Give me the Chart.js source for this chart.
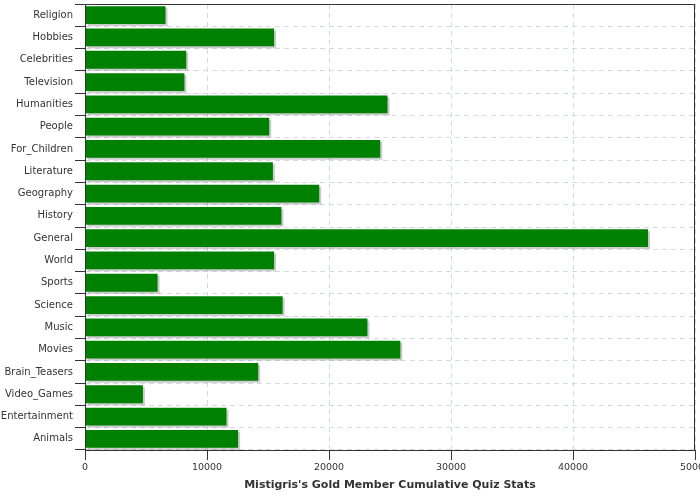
<!DOCTYPE html>
<html>
<head>
<meta charset="utf-8">
<script src="https://cdn.jsdelivr.net/npm/chart.js@4/dist/chart.umd.min.js"></script>
<style>
  body { margin: 0; background: #fff; }
</style>
</head>
<body>
<canvas id="myChart" width="700" height="500"></canvas>
<script>
// categorias y valores
var categories = ["Religion", "Hobbies", "Celebrities", "Television", "Humanities", "People",
    "For_Children", "Literature", "Geography", "History", "General", "World", "Sports",
    "Science", "Music", "Movies", "Brain_Teasers", "Video_Games", "Entertainment", "Animals"];
var scores = [6600, 15500, 8300, 8150, 24800, 15100, 24200, 15400, 19200, 16100,
    46150, 15500, 5950, 16200, 23150, 25850, 14200, 4750, 11600, 12550];
var xTicks = [0, 10000, 20000, 30000, 40000, 50000];
var chartTitle = "Mistigris's Gold Member Cumulative Quiz Stats";

// sombra gris bajo las barras
var barShadow = {
    id: 'barShadow',
    beforeDatasetDraw: function(chart) {
        var ctx = chart.ctx;
        ctx.save();
        ctx.shadowColor = 'rgba(0,0,0,0.2)';
        ctx.shadowOffsetX = 2;
        ctx.shadowOffsetY = 2;
        ctx.shadowBlur = 0;
    },
    afterDatasetDraw: function(chart) {
        chart.ctx.restore();
    }
};

// marco alrededor del area
var frame = {
    id: 'frame',
    afterDraw: function(chart) {
        var a = chart.chartArea;
        var ctx = chart.ctx;
        ctx.save();
        ctx.strokeStyle = '#333';
        ctx.lineWidth = 1;
        ctx.strokeRect(Math.round(a.left) + 0.5, Math.round(a.top) + 0.5,
            Math.round(a.right - a.left) - 1, Math.round(a.bottom - a.top));
        ctx.restore();
    }
};

Chart.defaults.font.family = "DejaVu Sans";
Chart.defaults.color = '#333';

const ctx = document.getElementById('myChart').getContext('2d');
new Chart(ctx, {
    type: 'bar',
    data: {
        labels: categories,
        datasets: [{
            data: scores,
            backgroundColor: '#008000',
            borderWidth: 0,
            barPercentage: 0.8,
            categoryPercentage: 1
        }]
    },
    plugins: [barShadow, frame],
    options: {
        indexAxis: 'y',
        responsive: false,
        animation: false,
        devicePixelRatio: 1,
        layout: { padding: { left: 0, right: 5, top: 4, bottom: 8 } },
        plugins: {
            legend: { display: false },
            tooltip: { enabled: false }
        },
        scales: {
            x: {
                min: 0,
                max: 50000,
                afterBuildTicks: function(scale) {
                    scale.ticks = xTicks.map(function(v) { return { value: v }; });
                },
                afterFit: function(scale) {
                    scale.height = 42;
                    scale.paddingLeft = 0;
                    scale.paddingRight = 0;
                },
                grid: {
                    color: '#d3dbe0',
                    tickColor: '#333',
                    tickLength: 10
                },
                border: { color: '#333', dash: [5, 4] },
                ticks: {
                    font: { size: 9.5 },
                    color: '#333',
                    padding: 2,
                    maxRotation: 0,
                    autoSkip: false,
                    callback: function(v) { return String(v); }
                },
                title: {
                    display: true,
                    text: chartTitle,
                    font: { size: 11, weight: 'bold' },
                    color: '#333',
                    padding: { top: 2, bottom: 0 }
                }
            },
            y: {
                offset: true,
                afterFit: function(scale) {
                    scale.width = 85;
                    scale.paddingTop = 0;
                    scale.paddingBottom = 0;
                },
                grid: {
                    offset: true,
                    color: '#d3dbe0',
                    tickColor: '#333',
                    tickLength: 10
                },
                border: { color: '#333', dash: [5, 4] },
                ticks: {
                    font: { size: 10 },
                    color: '#333',
                    padding: 2,
                    autoSkip: false
                }
            }
        }
    }
});
</script>
</body>
</html>
